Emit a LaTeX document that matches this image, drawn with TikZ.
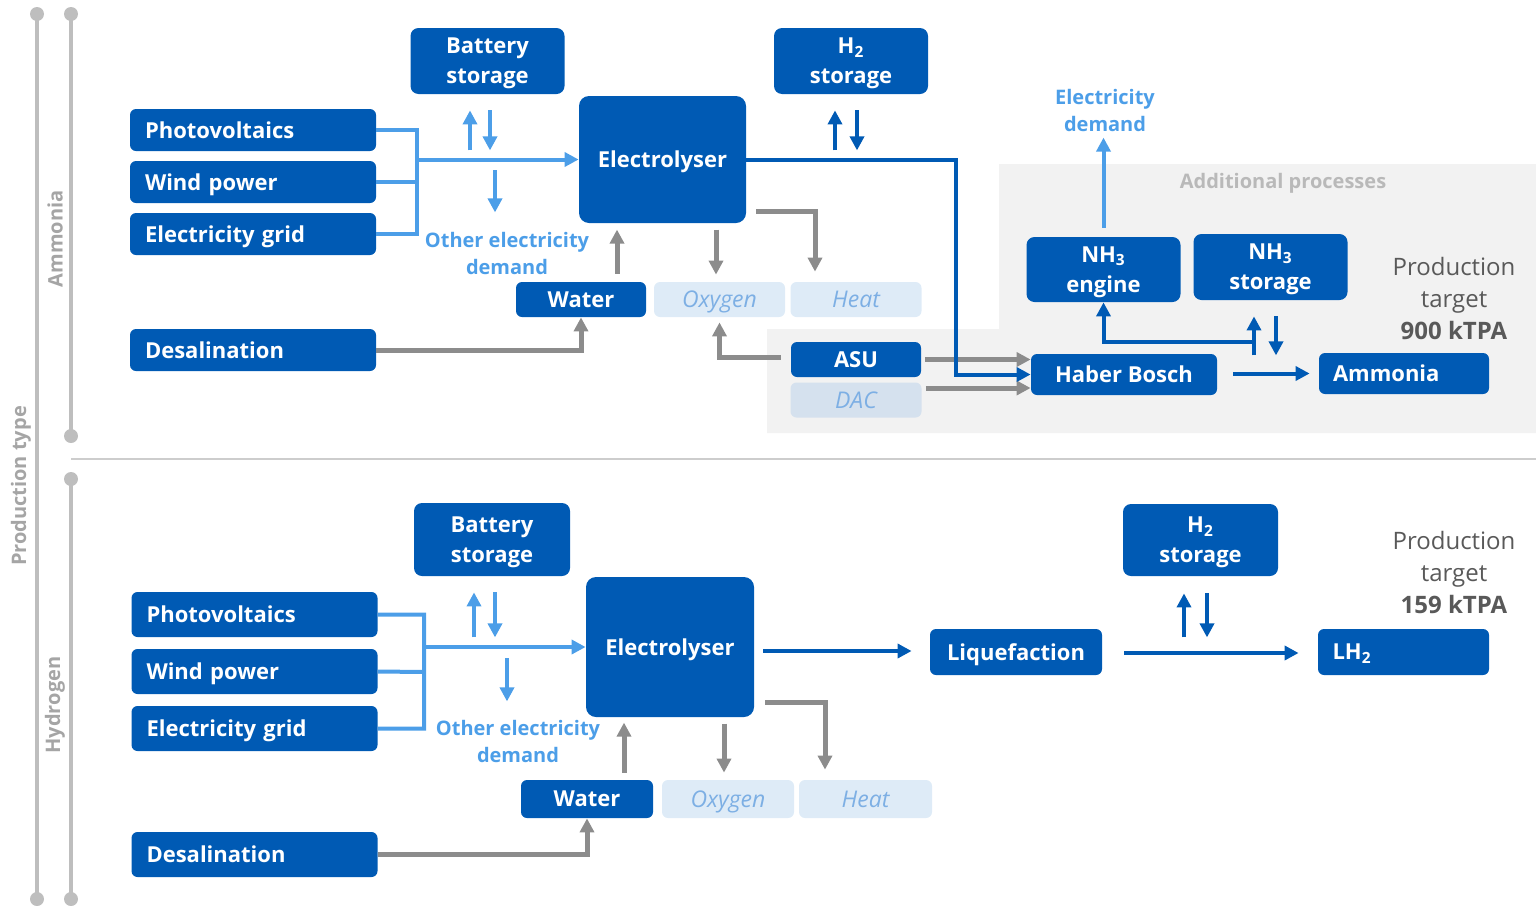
\documentclass[tikz,border=0pt]{standalone}
\usepackage{fontspec}
\setmainfont{Open Sans}
\usetikzlibrary{arrows.meta,calc}

\definecolor{nodeblue}{RGB}{0,90,180}
\definecolor{elecblue}{RGB}{76,158,232}
\definecolor{flowgray}{RGB}{140,140,140}
\definecolor{palefill}{RGB}{222,235,247}
\definecolor{paletext}{RGB}{125,175,228}
\definecolor{dacfill}{RGB}{213,225,238}
\definecolor{regiongray}{RGB}{242,242,242}
\definecolor{axisgray}{RGB}{190,190,190}
\definecolor{sepgray}{RGB}{205,205,205}
\definecolor{labelgray}{RGB}{165,165,165}
\definecolor{procgray}{RGB}{185,185,185}
\definecolor{targetgray}{RGB}{89,89,89}

\begin{document}
\begin{tikzpicture}[x=0.5pt,y=-0.5pt,>={Triangle[length=7pt,width=7pt]},
  every node/.style={inner sep=0pt},
  blk/.style={fill=nodeblue,text=white,font=\bfseries\fontsize{11}{15}\selectfont,rounded corners=3pt,align=center,text depth=0pt},
  srcbox/.style={blk,minimum width=123pt,minimum height=21pt,text width=108pt,align=left},
  storebox/.style={blk,rounded corners=4pt,minimum width=77pt,minimum height=33pt},
  elecbox/.style={blk,rounded corners=5pt,minimum width=83.5pt},
  smallbox/.style={blk,minimum width=65pt,minimum height=17.5pt},
  palebox/.style={fill=palefill,text=paletext,font=\itshape\fontsize{11.5}{13}\selectfont,rounded corners=3pt,minimum width=65.5pt,minimum height=17.5pt,text depth=0pt},
  endbox/.style={blk,minimum width=85pt,minimum height=20.5pt,text width=71pt,align=left},
  demand/.style={text=elecblue,font=\bfseries\fontsize{10}{13.5}\selectfont,align=center},
  sidelabel/.style={text=labelgray,font=\bfseries\fontsize{10}{12}\selectfont,rotate=90},
  target/.style={text=targetgray,font=\fontsize{12}{16}\selectfont,align=center},
  elink/.style={draw=elecblue,line width=2pt},
  hlink/.style={draw=nodeblue,line width=2pt},
  glink/.style={draw=flowgray,line width=2.5pt}]
\useasboundingbox (0,0) rectangle (1536,905);

% background of the extra process steps
\fill[regiongray] (999,164) -- (1536,164) -- (1536,433) -- (767,433) -- (767,329) -- (999,329) -- cycle;
\node[text=procgray,font=\bfseries\fontsize{10}{12}\selectfont] (addproc) at (1283,183) {Additional processes};

% side axis
\draw[draw=axisgray,line width=2pt] (37,14) -- (37,899);
\draw[draw=axisgray,line width=2pt] (71,14) -- (71,436);
\draw[draw=axisgray,line width=2pt] (71,479) -- (71,899);
\fill[axisgray] (37,14) circle[radius=3.5pt] (71,14) circle[radius=3.5pt]
  (71,436) circle[radius=3.5pt] (71,479) circle[radius=3.5pt]
  (37,899) circle[radius=3.5pt] (71,899) circle[radius=3.5pt];
\draw[draw=sepgray,line width=0.75pt] (71,459) -- (1536,459);
\node[sidelabel] (ptype) at (21,486) {Production type};
\node[sidelabel] (ammlab) at (55,239) {Ammonia};
\node[sidelabel] (hydlab) at (55,705) {Hydrogen};

% ammonia route
\node[srcbox] (pvA) at (253,130) {Photovoltaics};
\node[srcbox] (windA) at (253,182) {Wind power};
\node[srcbox] (gridA) at (253,234) {Electricity grid};
\node[srcbox] (desalA) at (253,350) {Desalination};
\node[storebox] (battA) at (487.5,61) {Battery\\storage};
\node[elecbox,minimum height=63.5pt] (elecA) at (662.5,159.5) {Electrolyser};
\node[storebox] (h2A) at (851,61) {H\textsubscript{2}\\storage};
\node[smallbox] (waterA) at (581,299.5) {Water};
\node[palebox] (oxyA) at (719.5,299.5) {Oxygen};
\node[palebox] (heatA) at (856,299.5) {Heat};
\node[smallbox] (asuA) at (856,359.5) {ASU};
\node[palebox,fill=dacfill] (dacA) at (856,400) {DAC};
\node[storebox,minimum height=32.5pt] (engA) at (1103.5,269.5) {NH\textsubscript{3}\\engine};
\node[storebox] (nh3sA) at (1270.5,267) {NH\textsubscript{3}\\storage};
\node[blk,minimum width=93pt,minimum height=20.5pt] (hbA) at (1124,374.5) {Haber Bosch};
\node[endbox] (ammA) at (1404,373.5) {Ammonia};
\node[demand] (otherA) at (507,253) {Other electricity\\demand};
\node[demand] (elecdemA) at (1105,110) {Electricity\\demand};
\node[target] (tgtA) at (1454,298) {Production\\target\\\textbf{900 kTPA}};

\coordinate (busA) at (417,182);
\draw[elink] (pvA.east) -| (busA) (gridA.east) -| (busA) (windA.east) -- (busA);
\draw[elink,->] (busA |- elecA.west) -- (elecA.west);
\draw[elink,->] ($(battA.south)+(-17.5,56)$) -- ++(0,-40);
\draw[elink,->] ($(battA.south)+(2.5,16)$) -- ++(0,40);
\draw[elink,->] ($(battA.south)+(7.5,76)$) -- ++(0,42);
\draw[glink,->] ($(waterA.north)+(36,-8)$) -- ++(0,-44);
\draw[glink,->] ($(oxyA.north)+(-3.5,-52)$) -- ++(0,45);
\draw[glink,->] ($(elecA.south east)+(10,-12)$) -| ($(heatA.north)+(-41,-10)$);
\draw[glink,->] (desalA.east) -| (waterA.south);
\draw[glink,->] ($(asuA.west)+(-10,-2)$) -| ($(oxyA.south)+(0,5)$);
\draw[hlink,->] ($(h2A.south)+(-16,56)$) -- ++(0,-40);
\draw[hlink,->] ($(h2A.south)+(6,16)$) -- ++(0,40);
\draw[glink,->] ($(asuA.east)+(4,0)$) -- ($(hbA.west)+(0,-15)$);
\draw[glink,->] ($(dacA.east)+(4,-12)$) -- ($(hbA.west)+(0,13.5)$);
\draw[hlink,->] (elecA.east) -- ++(210,0) |- (hbA.west);
\draw[hlink,->] ($(hbA.east)+(16,-1)$) -- ($(ammA.west)+(-9,0)$);
\draw[hlink,->] ($(nh3sA.south)+(-16.5,55)$) -- ++(0,-39);
\draw[hlink,->] ($(nh3sA.south)+(5.5,16)$) -- ++(0,39);
\draw[hlink,->] ($(nh3sA.south)+(-16.5,42)$) -| (engA.south);
\draw[elink,->] ($(engA.north)+(0,-9)$) -- ++(0,-90);

% hydrogen route
\node[srcbox,minimum height=22.5pt] (pvB) at (254.5,614.5) {Photovoltaics};
\node[srcbox,minimum height=22.5pt] (windB) at (254.5,671.5) {Wind power};
\node[srcbox,minimum height=22.5pt] (gridB) at (254.5,728.5) {Electricity grid};
\node[srcbox,minimum height=22.5pt] (desalB) at (254.5,854.5) {Desalination};
\node[storebox,minimum width=78pt,minimum height=36.5pt] (battB) at (492,539.5) {Battery\\storage};
\node[elecbox,minimum width=84pt,minimum height=70pt] (elecB) at (670,647) {Electrolyser};
\node[smallbox,minimum width=66pt,minimum height=19pt] (waterB) at (587,799) {Water};
\node[palebox,minimum width=66pt,minimum height=19pt] (oxyB) at (728,799) {Oxygen};
\node[palebox,minimum width=66.5pt,minimum height=19pt] (heatB) at (865.5,799) {Heat};
\node[blk,minimum width=86pt,minimum height=23pt] (liqB) at (1016,652) {Liquefaction};
\node[storebox,minimum width=77.5pt,minimum height=36pt] (h2B) at (1200.5,540) {H\textsubscript{2}\\storage};
\node[endbox,minimum width=85.5pt,minimum height=23pt] (lh2B) at (1403.5,652) {LH\textsubscript{2}};
\node[demand] (otherB) at (518,741) {Other electricity\\demand};
\node[target] (tgtB) at (1454,572) {Production\\target\\\textbf{159 kTPA}};

\coordinate (busB) at (424,672);
\draw[elink] (pvB.east) -| (busB) (gridB.east) -| (busB) (windB.east) -- (busB);
\draw[elink,->] (busB |- elecB.west) -- (elecB.west);
\draw[elink,->] ($(battB.south)+(-18,61)$) -- ++(0,-45);
\draw[elink,->] ($(battB.south)+(3,16)$) -- ++(0,45);
\draw[elink,->] ($(battB.south)+(15,82)$) -- ++(0,43);
\draw[glink,->] ($(waterB.north)+(37,-7)$) -- ++(0,-50);
\draw[glink,->] ($(oxyB.north)+(-4,-56)$) -- ++(0,49);
\draw[glink,->] ($(elecB.south east)+(11,-15)$) -| ($(heatB.north)+(-40.5,-10)$);
\draw[glink,->] (desalB.east) -| (waterB.south);
\draw[hlink,->] ($(elecB.east)+(9,4)$) -- ($(liqB.west)+(-18,-1)$);
\draw[hlink,->] ($(liqB.east)+(22,1)$) -- ($(lh2B.west)+(-19,1)$);
\draw[hlink,->] ($(h2B.south)+(-16.5,61)$) -- ++(0,-44);
\draw[hlink,->] ($(h2B.south)+(6.5,17)$) -- ++(0,44);
\end{tikzpicture}
\end{document}
